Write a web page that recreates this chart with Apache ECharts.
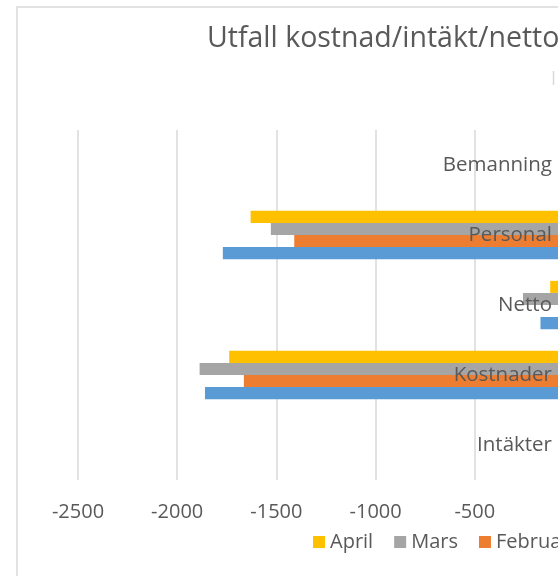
<!DOCTYPE html>
<html>
<head>
<meta charset="utf-8">
<script src="https://cdn.jsdelivr.net/npm/echarts@6/dist/echarts.min.js"></script>
<style>
  html, body { margin: 0; padding: 0; overflow: hidden; background: #fff; }
  #chart { width: 900px; height: 576px; }
</style>
</head>
<body>
<div id="chart"></div>
<script>
// categories bottom -> top (echarts draws first category at the bottom)
const categories = ['Intäkter', 'Kostnader', 'Netto', 'Personal', 'Bemanning'];
const legendOrder = ['April', 'Mars', 'Februari', 'Januari'];

// null = bar not visible in the picture (positive / off the right edge)
const januari = [null, -1860, -169, -1770, null];
const februari = [null, -1664, null, -1410, null];
const mars = [null, -1887, -257, -1528, null];
const april = [null, -1738, -120, -1630, null];

const xTicks = { min: -2500, max: 0, step: 500 };

const textColor = '#595959';
const font = 'Open Sans';

const chart = echarts.init(document.getElementById('chart'));

const mkSeries = (name, data, color) => ({
  name,
  type: 'bar',
  data,
  itemStyle: { color },
  barGap: '0%',
  barCategoryGap: '31%'
});

chart.setOption({
  animation: false,
  textStyle: { fontFamily: font },
  title: {
    text: 'Utfall kostnad/intäkt/netto/personal',
    left: 202,
    top: 19,
    textStyle: { fontSize: 28.5, fontWeight: 'normal', color: textColor, fontFamily: font }
  },
  graphic: [
    // chart area border
    { type: 'rect', shape: { x: 17, y: 7, width: 1000, height: 700 },
      style: { fill: 'none', stroke: '#d9d9d9', lineWidth: 1.5 } },
    { type: 'line', shape: { x1: 553.5, y1: 71, x2: 553.5, y2: 85 },
      style: { stroke: '#d9d9d9', lineWidth: 1.5 } }
  ],
  legend: {
    data: legendOrder,
    left: 313,
    top: 532,
    padding: 0,
    icon: 'rect',
    itemWidth: 12,
    itemHeight: 12,
    itemGap: 21,
    textStyle: { fontSize: 20, color: textColor, fontFamily: font }
  },
  grid: { left: 78, right: 900 - 574, top: 130, bottom: 576 - 480, containLabel: false },
  xAxis: {
    type: 'value',
    min: xTicks.min,
    max: xTicks.max,
    interval: xTicks.step,
    axisLine: { show: false },
    axisTick: { show: false },
    splitLine: { lineStyle: { color: '#d9d9d9', width: 1.5 } },
    axisLabel: { fontSize: 20, color: textColor, margin: 22, fontFamily: font, formatter: v => String(v) }
  },
  yAxis: {
    type: 'category',
    data: categories,
    position: 'right',
    z: 10,
    axisLine: { show: false },
    axisTick: { show: false },
    axisLabel: { inside: true, margin: 22, fontSize: 20.5, color: textColor, fontFamily: font }
  },
  // series order reversed so April ends up on top in each band
  series: [
    mkSeries('April', april, '#ffc000'),
    mkSeries('Mars', mars, '#a5a5a5'),
    mkSeries('Februari', februari, '#ed7d31'),
    mkSeries('Januari', januari, '#5b9bd5')
  ]
});
</script>
</body>
</html>
